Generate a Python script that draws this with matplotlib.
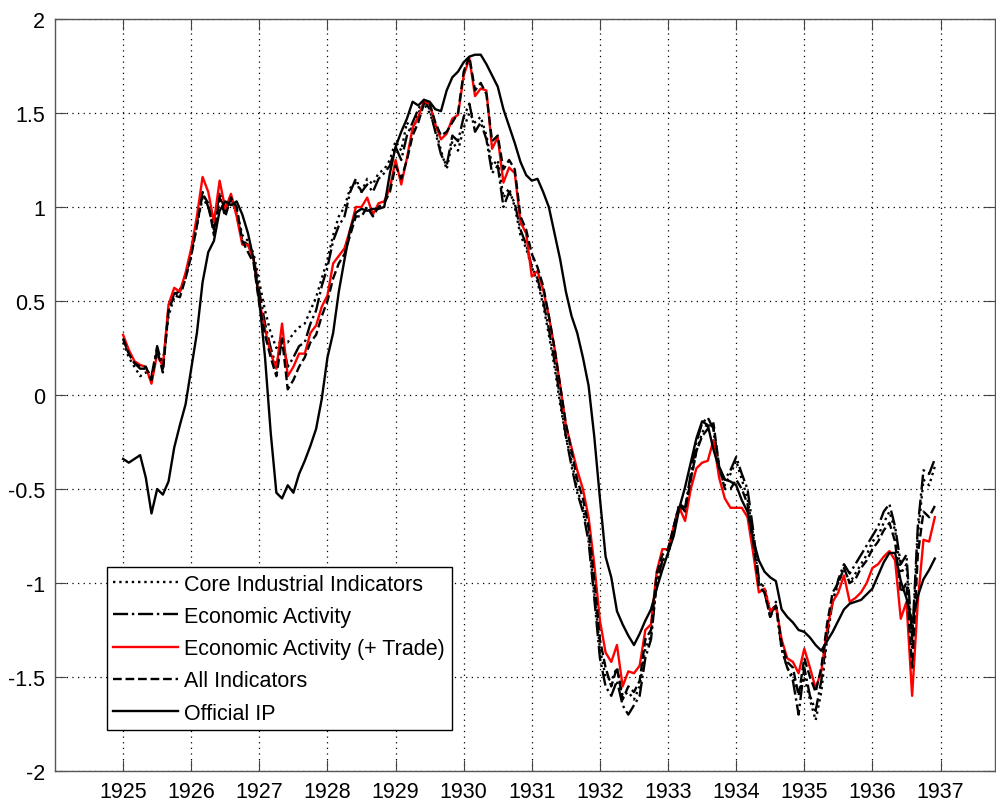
import numpy as np
import matplotlib
matplotlib.use('Agg')
import matplotlib.pyplot as plt

plt.rcParams['font.family'] = ['Liberation Sans', 'DejaVu Sans']
plt.rcParams['axes.unicode_minus'] = False

# monthly series, Jan 1925 - Dec 1936
start_year = 1925
n_months = 144

core = [0.28, 0.20, 0.15, 0.10, 0.12, 0.08, 0.24, 0.17, 0.42, 0.52, 0.56, 0.62,
        0.75, 0.90, 1.05, 1.00, 0.90, 1.05, 0.98, 1.04, 0.98, 0.85, 0.82, 0.75,
        0.60, 0.45, 0.33, 0.25, 0.30, 0.28, 0.33, 0.36, 0.38, 0.45, 0.52, 0.62,
        0.72, 0.85, 0.95, 1.00, 1.10, 1.13, 1.08, 1.15, 1.12, 1.18, 1.20, 1.25,
        1.35, 1.30, 1.45, 1.40, 1.50, 1.55, 1.50, 1.42, 1.30, 1.20, 1.35, 1.30,
        1.42, 1.50, 1.45, 1.48, 1.38, 1.22, 1.25, 1.05, 1.10, 1.00, 0.85, 0.78,
        0.68, 0.60, 0.48, 0.32, 0.15, -0.05, -0.22, -0.35, -0.50, -0.60, -0.75, -1.05,
        -1.35, -1.50, -1.52, -1.45, -1.60, -1.58, -1.62, -1.55, -1.35, -1.28, -1.00, -0.88,
        -0.85, -0.72, -0.60, -0.62, -0.45, -0.30, -0.20, -0.15, -0.18, -0.40, -0.48, -0.42,
        -0.35, -0.45, -0.55, -0.75, -1.00, -1.02, -1.15, -1.12, -1.35, -1.45, -1.50, -1.58,
        -1.50, -1.62, -1.73, -1.58, -1.30, -1.10, -1.00, -0.92, -1.00, -0.95, -0.90, -0.85,
        -0.78, -0.75, -0.68, -0.62, -0.72, -0.95, -0.90, -1.35, -0.75, -0.45, -0.48, -0.38]

econ = [0.30, 0.22, 0.17, 0.14, 0.14, 0.10, 0.26, 0.14, 0.46, 0.54, 0.55, 0.63,
        0.76, 0.92, 1.08, 1.00, 0.88, 1.08, 0.97, 1.05, 0.96, 0.82, 0.80, 0.73,
        0.55, 0.38, 0.25, 0.15, 0.30, 0.15, 0.20, 0.26, 0.28, 0.38, 0.45, 0.58,
        0.68, 0.82, 0.90, 0.95, 1.08, 1.15, 1.08, 1.12, 1.08, 1.15, 1.18, 1.22,
        1.32, 1.25, 1.38, 1.45, 1.52, 1.57, 1.52, 1.40, 1.28, 1.22, 1.38, 1.35,
        1.48, 1.55, 1.40, 1.45, 1.36, 1.18, 1.22, 1.00, 1.08, 1.02, 0.88, 0.80,
        0.68, 0.62, 0.50, 0.35, 0.18, -0.02, -0.22, -0.38, -0.52, -0.62, -0.78, -1.08,
        -1.40, -1.55, -1.60, -1.52, -1.65, -1.70, -1.65, -1.60, -1.40, -1.30, -1.00, -0.88,
        -0.85, -0.70, -0.58, -0.60, -0.42, -0.25, -0.15, -0.12, -0.18, -0.38, -0.45, -0.40,
        -0.33, -0.42, -0.50, -0.72, -0.98, -1.05, -1.18, -1.10, -1.35, -1.45, -1.52, -1.70,
        -1.45, -1.60, -1.68, -1.52, -1.28, -1.10, -0.98, -0.90, -0.95, -0.90, -0.85, -0.80,
        -0.75, -0.70, -0.62, -0.58, -0.70, -0.90, -0.85, -1.30, -0.70, -0.40, -0.42, -0.34]

econ_trade = [0.32, 0.24, 0.18, 0.16, 0.15, 0.06, 0.22, 0.15, 0.48, 0.57, 0.55, 0.65,
              0.78, 0.95, 1.16, 1.08, 0.92, 1.14, 0.99, 1.07, 0.95, 0.80, 0.80, 0.72,
              0.50, 0.35, 0.22, 0.14, 0.38, 0.10, 0.15, 0.22, 0.22, 0.33, 0.37, 0.47,
              0.53, 0.70, 0.74, 0.78, 0.88, 1.00, 1.00, 1.05, 0.96, 1.02, 1.03, 1.10,
              1.25, 1.12, 1.26, 1.42, 1.48, 1.56, 1.55, 1.44, 1.36, 1.39, 1.47, 1.49,
              1.70, 1.79, 1.59, 1.63, 1.62, 1.31, 1.37, 1.13, 1.21, 1.18, 0.92, 0.86,
              0.63, 0.66, 0.56, 0.42, 0.25, 0.05, -0.16, -0.28, -0.40, -0.50, -0.65, -0.90,
              -1.20, -1.37, -1.42, -1.33, -1.55, -1.47, -1.48, -1.44, -1.25, -1.22, -0.94, -0.82,
              -0.82, -0.70, -0.60, -0.67, -0.50, -0.39, -0.36, -0.35, -0.24, -0.44, -0.55, -0.60,
              -0.60, -0.60, -0.65, -0.84, -1.05, -1.03, -1.15, -1.12, -1.30, -1.40, -1.42, -1.48,
              -1.35, -1.45, -1.56, -1.47, -1.25, -1.10, -1.05, -0.96, -1.10, -1.08, -1.05, -1.00,
              -0.92, -0.90, -0.86, -0.83, -0.88, -1.19, -1.10, -1.60, -1.10, -0.77, -0.78, -0.65]

all_ind = [0.30, 0.22, 0.17, 0.15, 0.15, 0.08, 0.24, 0.12, 0.45, 0.53, 0.52, 0.62,
           0.74, 0.90, 1.07, 1.02, 0.85, 1.05, 0.95, 1.05, 1.00, 0.82, 0.76, 0.70,
           0.48, 0.32, 0.20, 0.10, 0.30, 0.03, 0.08, 0.15, 0.20, 0.28, 0.32, 0.42,
           0.50, 0.62, 0.70, 0.75, 0.85, 0.95, 0.95, 1.00, 0.95, 1.00, 1.02, 1.08,
           1.22, 1.15, 1.25, 1.38, 1.45, 1.55, 1.55, 1.45, 1.38, 1.40, 1.45, 1.50,
           1.72, 1.80, 1.62, 1.66, 1.60, 1.35, 1.38, 1.20, 1.25, 1.20, 0.95, 0.88,
           0.75, 0.68, 0.58, 0.42, 0.25, 0.05, -0.15, -0.30, -0.45, -0.55, -0.70, -0.98,
           -1.30, -1.45, -1.55, -1.45, -1.62, -1.55, -1.58, -1.52, -1.30, -1.25, -0.95, -0.85,
           -0.82, -0.70, -0.58, -0.62, -0.45, -0.30, -0.22, -0.18, -0.15, -0.38, -0.50, -0.50,
           -0.45, -0.50, -0.58, -0.78, -1.02, -1.05, -1.18, -1.12, -1.32, -1.42, -1.45, -1.60,
           -1.40, -1.50, -1.58, -1.45, -1.22, -1.05, -1.00, -0.92, -1.00, -0.98, -0.92, -0.88,
           -0.82, -0.78, -0.72, -0.68, -0.78, -1.05, -1.00, -1.45, -0.85, -0.62, -0.65, -0.59]

official_ip = [-0.34, -0.36, -0.34, -0.32, -0.44, -0.63, -0.50, -0.53, -0.46, -0.28, -0.16, -0.05,
               0.14, 0.33, 0.60, 0.76, 0.82, 0.98, 1.03, 1.01, 1.03, 0.96, 0.86, 0.72,
               0.50, 0.20, -0.20, -0.52, -0.55, -0.48, -0.52, -0.42, -0.35, -0.27, -0.18, -0.02,
               0.20, 0.33, 0.55, 0.72, 0.88, 0.97, 0.99, 0.98, 0.99, 0.99, 1.00, 1.18,
               1.32, 1.40, 1.47, 1.56, 1.54, 1.57, 1.56, 1.52, 1.51, 1.62, 1.69, 1.72,
               1.77, 1.80, 1.81, 1.81, 1.76, 1.70, 1.64, 1.52, 1.43, 1.34, 1.24, 1.17,
               1.14, 1.15, 1.08, 1.00, 0.86, 0.72, 0.55, 0.42, 0.33, 0.20, 0.05, -0.22,
               -0.55, -0.86, -0.97, -1.15, -1.22, -1.28, -1.33, -1.27, -1.20, -1.14, -1.03, -0.93,
               -0.84, -0.75, -0.60, -0.49, -0.36, -0.23, -0.14, -0.16, -0.29, -0.39, -0.45, -0.46,
               -0.48, -0.56, -0.62, -0.77, -0.88, -0.94, -0.97, -0.99, -1.14, -1.18, -1.21, -1.25,
               -1.26, -1.29, -1.33, -1.36, -1.31, -1.26, -1.20, -1.14, -1.11, -1.10, -1.09, -1.06,
               -1.03, -0.96, -0.89, -0.84, -0.84, -0.99, -1.08, -1.21, -1.07, -0.98, -0.93, -0.87]

labels = ['Core Industrial Indicators', 'Economic Activity', 'Economic Activity (+ Trade)',
          'All Indicators', 'Official IP']
years = list(range(1925, 1938))

t = start_year + np.arange(n_months) / 12.0

fig = plt.figure(figsize=(9.96, 8.03), dpi=100)
ax = fig.add_axes([55 / 996, 31 / 803, 940 / 996, 752 / 803])

lw = 1.7
ax.plot(t, core, color='black', linestyle=':', linewidth=lw, label=labels[0])
ax.plot(t, econ, color='black', linestyle='-.', linewidth=lw, label=labels[1])
ax.plot(t, econ_trade, color='red', linestyle='-', linewidth=lw, label=labels[2])
ax.plot(t, all_ind, color='black', linestyle='--', linewidth=lw, label=labels[3])
ax.plot(t, official_ip, color='black', linestyle='-', linewidth=lw, label=labels[4])

ax.set_xlim(1924, 1937.8)
ax.set_ylim(-2, 2)
ax.set_xticks(years)
ax.set_xticklabels([str(y) for y in years])
ax.set_yticks(np.arange(-2, 2.01, 0.5))
ax.set_yticklabels(['-2', '-1.5', '-1', '-0.5', '0', '0.5', '1', '1.5', '2'])

ax.grid(True, linestyle=(0, (1, 3.5)), color='black', linewidth=0.9)
ax.tick_params(direction='in', length=8, width=0.8, top=True, right=True,
               labelsize=15.5, pad=7, colors='#444444', labelcolor='black')
for s in ax.spines.values():
    s.set_color('#555555')
    s.set_linewidth(1.0)

leg = ax.legend(loc='lower left', bbox_to_anchor=(52 / 940, 41 / 752), borderaxespad=0,
                fontsize=15.5, handlelength=3.0, labelspacing=0.52, handletextpad=0.3,
                borderpad=0.3, fancybox=False, framealpha=1)
leg.get_frame().set_edgecolor('black')
leg.get_frame().set_linewidth(1.0)

fig.savefig('out.png', dpi=100)
